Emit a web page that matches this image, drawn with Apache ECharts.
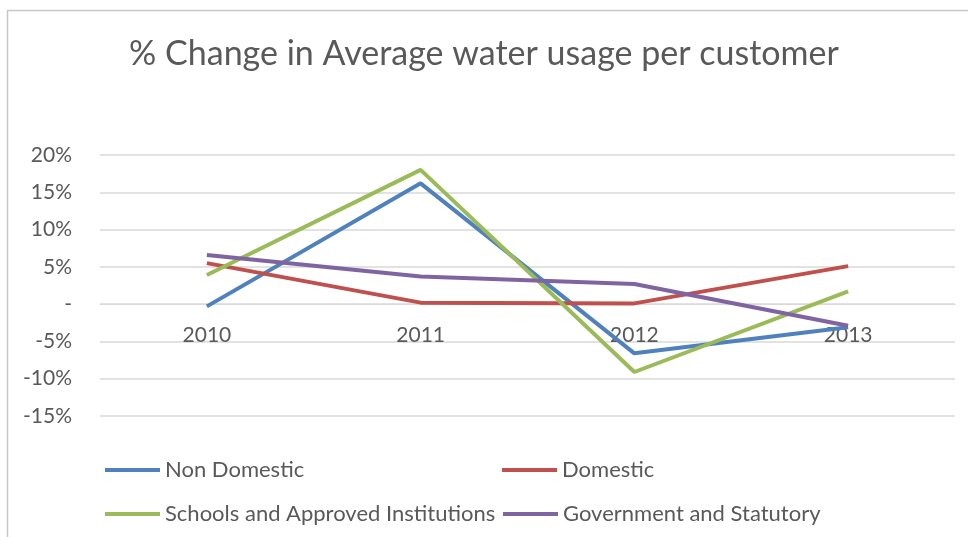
<!DOCTYPE html>
<html>
<head>
<meta charset="utf-8">
<script src="https://cdn.jsdelivr.net/npm/echarts@6/dist/echarts.min.js"></script>
<style>html,body{margin:0;padding:0;background:#fff}#c{width:968px;height:537px}</style>
</head>
<body>
<div id="c"></div>
<script>
var categories = ['2010', '2011', '2012', '2013'];
var nonDomestic = [-0.3, 16.2, -6.6, -3.1];
var domestic = [5.5, 0.2, 0.1, 5.1];
var schools = [3.9, 18.0, -9.1, 1.7];
var government = [6.6, 3.7, 2.7, -2.9];
var seriesNames = ['Non Domestic', 'Domestic', 'Schools and Approved Institutions', 'Government and Statutory'];
var yMin = -15, yMax = 20, yStep = 5;
var colors = ['#4F81BD', '#C0504D', '#9BBB59', '#8064A2'];

var FONT = 'Lato';
var textCol = '#595959';
var W = 968, H = 537;
var gridTop = 155, gridBottom = 121;
var gridH = H - gridTop - gridBottom;
var zeroShift = gridH * (0 - yMin) / (yMax - yMin);

var chart = echarts.init(document.getElementById('c'), null, {renderer: 'canvas'});
function legend(name, left, top) {
  return {
    data: [name], left: left, top: top, icon: 'rect', itemWidth: 55, itemHeight: 4, itemGap: 0,
    textStyle: {color: textCol, fontFamily: FONT, fontSize: 22}
  };
}
var vals = [nonDomestic, domestic, schools, government];
chart.setOption({
  animation: false,
  backgroundColor: '#fff',
  color: colors,
  title: {
    text: '% Change in Average water usage per customer',
    left: 'center', top: 32,
    textStyle: {color: textCol, fontFamily: FONT, fontSize: 34, fontWeight: 'normal'}
  },
  graphic: [{
    type: 'polyline', silent: true,
    shape: {points: [[7.5, 537], [7.5, 10.5], [968, 10.5]]},
    style: {stroke: '#c8c8c8', lineWidth: 1.5, fill: null}
  }],
  legend: [
    legend(seriesNames[0], 100, 454),
    legend(seriesNames[1], 497, 454),
    legend(seriesNames[2], 100, 498),
    legend(seriesNames[3], 498, 498)
  ],
  grid: {left: 100, right: 13, top: gridTop, bottom: gridBottom},
  xAxis: {
    type: 'category', data: categories, boundaryGap: true,
    offset: -zeroShift,
    axisLine: {show: true, onZero: false, lineStyle: {color: '#d9d9d9'}},
    axisTick: {show: false},
    axisLabel: {color: textCol, fontFamily: FONT, fontSize: 21, margin: 21}
  },
  yAxis: {
    type: 'value', min: yMin, max: yMax, interval: yStep,
    axisLine: {show: false}, axisTick: {show: false},
    splitLine: {lineStyle: {color: '#d9d9d9', width: 1.5}},
    axisLabel: {
      color: textCol, fontFamily: FONT, fontSize: 21, margin: 28,
      formatter: function (v) { return v === 0 ? '-' : v + '%'; }
    }
  },
  series: seriesNames.map(function (n, i) {
    return {
      name: n, type: 'line', data: vals[i], showSymbol: false, symbol: 'none',
      lineStyle: {width: 4, color: colors[i]}, itemStyle: {color: colors[i]}
    };
  })
});
</script>
</body>
</html>
